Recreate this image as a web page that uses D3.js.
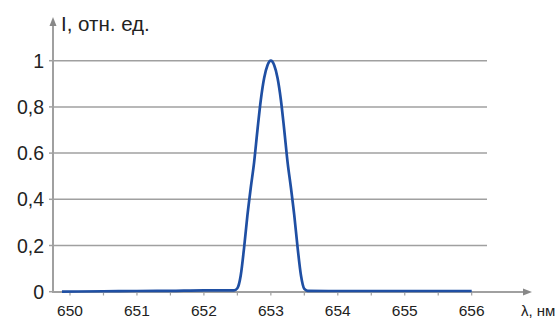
<!DOCTYPE html>
<html>
<head>
<meta charset="utf-8">
<script src="https://cdn.jsdelivr.net/npm/d3@7"></script>
<style>
  body { margin: 0; background: #fff; }
  svg { display: block; font-family: "Liberation Sans", Arial, sans-serif; }
</style>
</head>
<body>
<svg id="chart" width="558" height="320"></svg>
<script>
// spectrum, wavelength in nm vs relative intensity
var wavelength = [649.88, 650.5, 651, 651.5, 652, 652.45, 652.5, 652.55, 652.6, 652.65,
                  652.7, 652.75, 652.8, 652.85, 652.9, 652.95, 653, 653.05, 653.1, 653.15,
                  653.2, 653.25, 653.3, 653.35, 653.4, 653.45, 653.5, 653.55, 654, 655, 656];
var intensity  = [0, 0.002, 0.003, 0.004, 0.006, 0.006, 0.015, 0.07, 0.19, 0.33,
                  0.45, 0.56, 0.70, 0.83, 0.925, 0.98, 1.0, 0.98, 0.925, 0.83,
                  0.70, 0.56, 0.45, 0.33, 0.19, 0.07, 0.012, 0.004, 0.003, 0.003, 0.003];

var xTicks = [650, 651, 652, 653, 654, 655, 656];
var xMinor = d3.range(650, 656.01, 0.5);
var yTicks = [0, 0.2, 0.4, 0.6, 0.8, 1];
var yTickLabels = ["0", "0,2", "0,4", "0.6", "0,8", "1"];

var svg = d3.select("#chart");
var axisX0 = 53, axisY0 = 292;
var gridRight = 487, arrowRight = 532, arrowTop = 17;

var x = d3.scaleLinear().domain([650, 656]).range([70, 471.7]);
var y = d3.scaleLinear().domain([0, 1]).range([291.7, 60.7]);

var axisCol = "#a0a0a0";

// grid lines
svg.append("g").selectAll("line")
    .data(yTicks.slice(1))
  .enter().append("line")
    .attr("x1", axisX0).attr("x2", gridRight)
    .attr("y1", d => y(d)).attr("y2", d => y(d))
    .attr("stroke", axisCol).attr("stroke-width", 1.5);

// y ticks + labels
var yg = svg.append("g");
yg.selectAll("line")
    .data(yTicks)
  .enter().append("line")
    .attr("x1", axisX0 - 4).attr("x2", axisX0)
    .attr("y1", d => y(d)).attr("y2", d => y(d))
    .attr("stroke", axisCol).attr("stroke-width", 1.5);
yg.selectAll("text")
    .data(yTicks)
  .enter().append("text")
    .attr("x", 44).attr("y", d => y(d))
    .attr("dy", "0.36em")
    .attr("text-anchor", "end")
    .attr("font-size", "19.5px")
    .attr("fill", "#222")
    .text((d, i) => yTickLabels[i]);

// x minor ticks
svg.append("g").selectAll("line")
    .data(xMinor)
  .enter().append("line")
    .attr("x1", d => x(d)).attr("x2", d => x(d))
    .attr("y1", axisY0).attr("y2", axisY0 + 3.5)
    .attr("stroke", axisCol).attr("stroke-width", 1.2);

// x labels
svg.append("g").selectAll("text")
    .data(xTicks)
  .enter().append("text")
    .attr("x", d => x(d)).attr("y", 316)
    .attr("text-anchor", "middle")
    .attr("font-size", "15.5px")
    .attr("fill", "#222")
    .text(d => d);

// axes with arrows
svg.append("line")
    .attr("x1", axisX0).attr("x2", axisX0)
    .attr("y1", axisY0 + 1).attr("y2", arrowTop + 4)
    .attr("stroke", axisCol).attr("stroke-width", 2);
svg.append("line")
    .attr("x1", axisX0).attr("x2", arrowRight - 4)
    .attr("y1", axisY0).attr("y2", axisY0)
    .attr("stroke", axisCol).attr("stroke-width", 2);
svg.append("path")
    .attr("d", `M${axisX0},${arrowTop} L${axisX0 - 3.5},${arrowTop + 9} L${axisX0 + 3.5},${arrowTop + 9} Z`)
    .attr("fill", "#888");
svg.append("path")
    .attr("d", `M${arrowRight},${axisY0} L${arrowRight - 9},${axisY0 - 3.5} L${arrowRight - 9},${axisY0 + 3.5} Z`)
    .attr("fill", "#888");

// axis titles
svg.append("text")
    .attr("x", 61).attr("y", 30.5)
    .attr("font-size", "20.5px")
    .attr("fill", "#222")
    .text("I, отн. ед.");
svg.append("text")
    .attr("x", 521).attr("y", 316)
    .attr("font-size", "15px")
    .attr("fill", "#222")
    .text("λ, нм");

// curve
var pts = wavelength.map((w, i) => [w, intensity[i]]);
var line = d3.line()
    .x(d => x(d[0]))
    .y(d => y(d[1]))
    .curve(d3.curveMonotoneX);

svg.append("path")
    .datum(pts)
    .attr("d", line)
    .attr("fill", "none")
    .attr("stroke", "#1f4fa3")
    .attr("stroke-width", 2.7)
    .attr("stroke-linejoin", "round");
</script>
</body>
</html>
